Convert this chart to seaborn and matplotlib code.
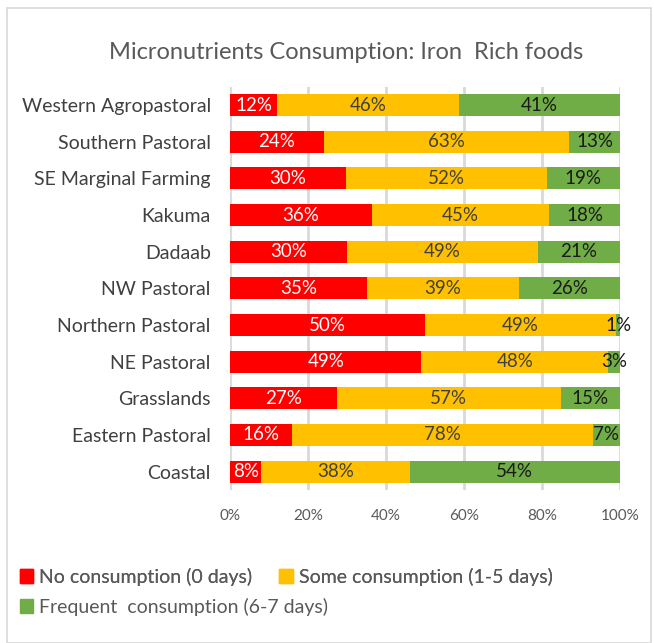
import numpy as np
import pandas as pd
import seaborn as sns
import matplotlib.pyplot as plt
from matplotlib.patches import Rectangle, Patch

regions = ["Western Agropastoral", "Southern Pastoral", "SE Marginal Farming",
           "Kakuma", "Dadaab", "NW Pastoral", "Northern Pastoral",
           "NE Pastoral", "Grasslands", "Eastern Pastoral", "Coastal"]
no_cons = [12, 24, 30, 36, 30, 35, 50, 49, 27, 16, 8]
some_cons = [46, 63, 52, 45, 49, 39, 49, 48, 57, 78, 38]
freq_cons = [41, 13, 19, 18, 21, 26, 1, 3, 15, 7, 54]
series_names = ["No consumption (0 days)", "Some consumption (1-5 days)",
                "Frequent  consumption (6-7 days)"]
colors = ["#ff0000", "#ffc000", "#70ad47"]
label_colors = ["white", "#404040", "#1a1a1a"]

df = pd.DataFrame({"region": regions, "no": no_cons, "some": some_cons,
                   "freq": freq_cons})
total = df[["no", "some", "freq"]].sum(axis=1)
# 100% stacked, like the original
df["c1"] = df["no"] / total * 100
df["c2"] = (df["no"] + df["some"]) / total * 100
df["c3"] = 100.0

sns.set_theme(style="white")
plt.rcParams["font.family"] = ["Lato", "DejaVu Sans"]

fig = plt.figure(figsize=(6.54, 6.43), dpi=100)
ax = fig.add_axes([0.352, 0.238, 0.596, 0.627])

for col, c in zip(["c3", "c2", "c1"], colors[::-1]):
    sns.barplot(data=df, x=col, y="region", color=c, width=0.6,
                saturation=1, ax=ax, zorder=3, linewidth=0)

# segment labels
starts = [np.zeros(len(df)), df["c1"].values, df["c2"].values]
ends = [df["c1"].values, df["c2"].values, df["c3"].values]
vals = [no_cons, some_cons, freq_cons]
for s, e, v, lc in zip(starts, ends, vals, label_colors):
    for i in range(len(df)):
        ax.text((s[i] + e[i]) / 2, i, f"{v[i]}%", ha="center", va="center",
                color=lc, fontsize=13.5, zorder=5)

ax.set_xlim(0, 100)
ax.set_ylim(len(df) - 0.5, -0.5)
ax.set_xticks(range(0, 101, 20))
ax.set_xticklabels([f"{t}%" for t in range(0, 101, 20)], fontsize=11,
                   color="#595959")
ax.tick_params(axis="y", labelsize=14, labelcolor="#404040", length=0, pad=14)
ax.tick_params(axis="x", length=0, pad=14)
ax.set_xlabel("")
ax.set_ylabel("")
for sp in ax.spines.values():
    sp.set_visible(False)
ax.xaxis.grid(True, color="#d9d9d9", linewidth=2, zorder=0)
ax.set_axisbelow(True)

fig.text(0.53, 0.918, "Micronutrients Consumption: Iron  Rich foods",
         ha="center", va="center", fontsize=17, color="#595959")

leg_kw = dict(loc="upper left", frameon=False, fontsize=14,
              labelcolor="#595959", handlelength=0.7, handleheight=0.7,
              handletextpad=0.3, borderaxespad=0, borderpad=0)
leg1 = fig.legend([Patch(color=colors[0]), Patch(color=colors[1])],
                  series_names[:2], ncol=2, columnspacing=1.4,
                  bbox_to_anchor=(0.03, 0.117), **leg_kw)
fig.add_artist(leg1)
fig.legend([Patch(color=colors[2])], series_names[2:],
           bbox_to_anchor=(0.03, 0.07), **leg_kw)

fig.patches.append(Rectangle((0.011, 0.0), 0.985, 0.988,
                             transform=fig.transFigure, fill=False,
                             edgecolor="#d9d9d9", linewidth=1.2))

fig.savefig("out.png", dpi=100, facecolor="white")
